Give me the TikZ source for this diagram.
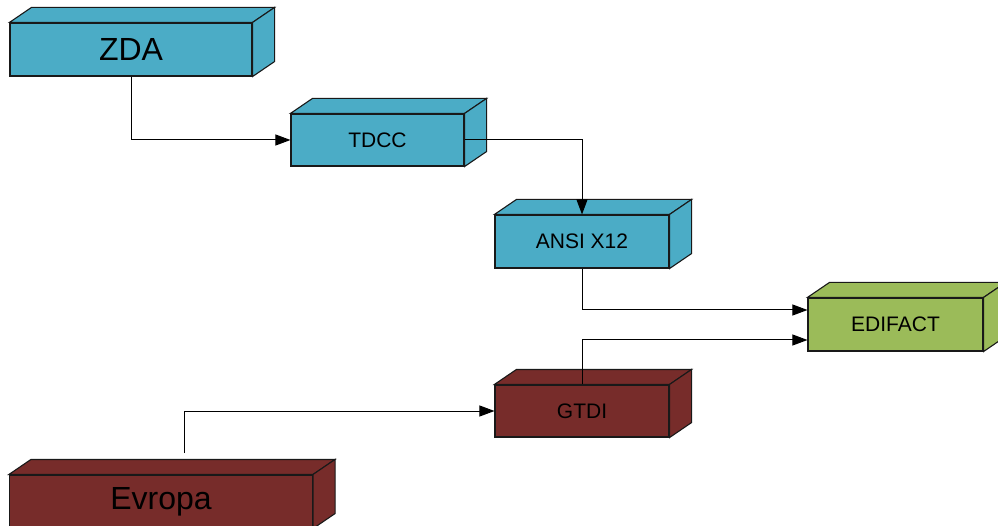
\documentclass[tikz,border=0pt]{standalone}
\usepackage{fontspec}
\setmainfont{Liberation Sans}
\usetikzlibrary{arrows.meta}

\definecolor{tealbox}{HTML}{4BACC6}
\definecolor{greenbox}{HTML}{9BBB59}
\definecolor{maroonbox}{HTML}{772C2A}

% front face of a cuboid, drawn as a node
\tikzset{
  front/.style={draw=black!90, line width=1.1pt, inner sep=0pt, anchor=center},
  small/.style={front, font=\fontsize{21}{21}\selectfont},
  large/.style={front, font=\fontsize{32}{32}\selectfont},
  faceedge/.style={draw=black!90, line width=1.1pt, line join=miter},
  link/.style={draw=black, line width=1pt},
  tip/.style={-{Triangle[length=15pt,width=11pt]}}
}

% top and right-hand faces behind a front node
\newcommand\cuboidfaces[2]{%
  \filldraw[faceedge, fill=#2] (#1.north west) -- ++(22,-15)
    -- ([shift={(22,-15)}]#1.north east) -- (#1.north east) -- cycle;
  \filldraw[faceedge, fill=#2] (#1.north east) -- ++(22,-15)
    -- ([shift={(22,-15)}]#1.south east) -- (#1.south east) -- cycle;
}

\begin{document}
\begin{tikzpicture}[x=1pt,y=-1pt]
  \useasboundingbox (0,0) rectangle (998,526);
  \clip (0,0) rectangle (998,526);

  % boxes
  \node[large, fill=tealbox, minimum width=242pt, minimum height=53pt] (zda) at (131,49.5) {ZDA};
  \cuboidfaces{zda}{tealbox}
  \node[small, fill=tealbox, minimum width=173pt, minimum height=52pt] (tdcc) at (377.5,140) {TDCC};
  \cuboidfaces{tdcc}{tealbox}
  \node[small, fill=tealbox, minimum width=174pt, minimum height=53pt] (ansi) at (582,241.5) {ANSI X12};
  \cuboidfaces{ansi}{tealbox}
  \node[small, fill=greenbox, minimum width=175pt, minimum height=53pt] (edifact) at (895.5,324.5) {EDIFACT};
  \cuboidfaces{edifact}{greenbox}
  \node[small, fill=maroonbox, minimum width=174pt, minimum height=52pt] (gtdi) at (582,411) {GTDI};
  \cuboidfaces{gtdi}{maroonbox}
  \node[large, fill=maroonbox, minimum width=303pt, minimum height=53pt] (evropa) at (161,501.5) {Evropa};
  \cuboidfaces{evropa}{maroonbox}

  % connectors
  \coordinate (evtop) at (184.7,453);
  \draw[link, tip] (zda.south) |- (tdcc.west);
  \draw[link, tip] (tdcc.east) -| (ansi.north);
  \draw[link, tip] (ansi.south) |- ([yshift=14.5pt]edifact.west);
  \draw[link, tip] (gtdi.north) |- ([yshift=-15.5pt]edifact.west);
  \draw[link, tip] (evtop) |- (gtdi.west);
\end{tikzpicture}
\end{document}
